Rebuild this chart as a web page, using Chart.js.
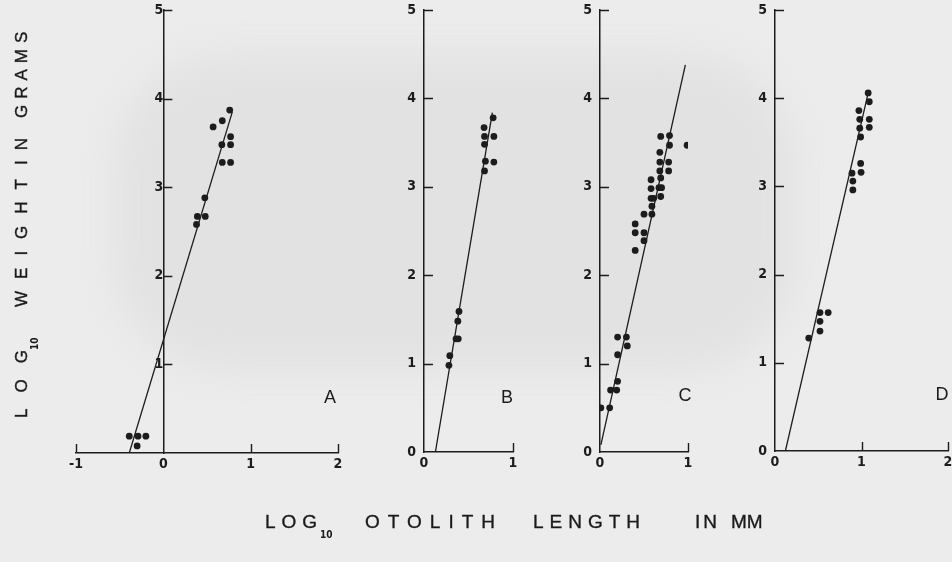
<!DOCTYPE html>
<html><head><meta charset="utf-8">
<script src="https://cdn.jsdelivr.net/npm/chart.js@4"></script>
<style>
html,body{margin:0;padding:0;}
body{width:952px;height:562px;position:relative;overflow:hidden;background:#ececec;}
canvas{position:absolute;left:0;top:0;}
.blob{position:absolute;left:115px;top:55px;width:680px;height:315px;background:#e2e2e2;border-radius:110px;filter:blur(18px);}
.t{position:absolute;font-family:'Liberation Sans',Arial,sans-serif;color:#1a1a1a;white-space:pre;line-height:1;-webkit-text-stroke:0.35px #1a1a1a;}
.sub{position:absolute;font-family:'Liberation Sans Narrow','DejaVu Sans Condensed','Liberation Sans',sans-serif;font-weight:bold;color:#1a1a1a;white-space:pre;line-height:1;font-size:10px;}
#vt{position:absolute;left:0;top:562px;width:562px;height:45px;transform:rotate(-90deg);transform-origin:0 0;}
</style></head><body>
<div class="blob"></div>
<canvas id="cA" width="952" height="562"></canvas>
<canvas id="cB" width="952" height="562"></canvas>
<canvas id="cC" width="952" height="562"></canvas>
<canvas id="cD" width="952" height="562"></canvas>

<div class="t" style="left:265px;top:512px;font-size:19px;letter-spacing:6px;">LOG</div>
<div class="sub" style="left:320px;top:530px;">10</div>
<div class="t" style="left:365px;top:512px;font-size:19px;letter-spacing:8px;">OTOLITH</div>
<div class="t" style="left:533px;top:512px;font-size:19px;letter-spacing:6px;">LENGTH</div>
<div class="t" style="left:695px;top:512px;font-size:19px;letter-spacing:3px;">IN</div>
<div class="t" style="left:731px;top:512px;font-size:19px;letter-spacing:0px;">MM</div>

<div id="vt">
  <div class="t" style="left:144px;top:13px;font-size:17px;letter-spacing:16px;">LOG</div>
  <div class="sub" style="left:212px;top:30px;">10</div>
  <div class="t" style="left:255px;top:13px;font-size:17px;letter-spacing:12px;">WEIGHT</div>
  <div class="t" style="left:397px;top:13px;font-size:17px;letter-spacing:10px;">IN</div>
  <div class="t" style="left:444px;top:13px;font-size:17px;letter-spacing:6px;">GRAMS</div>
</div>

<script>
// ---- data ----
const panelLetters = ['A', 'B', 'C', 'D'];
const yTickValues = [0, 1, 2, 3, 4, 5];
const xRangeA = [-1, 2];
const xRangeB = [0, 1];
const xRangeC = [0, 1];
const xRangeD = [0, 2];

const ptsAx = [0.76, 0.675, 0.57, 0.77, 0.67, 0.77, 0.675, 0.77, 0.475, 0.39, 0.48, 0.38, -0.39, -0.29, -0.20, -0.30];
const ptsAy = [3.87, 3.75, 3.68, 3.57, 3.48, 3.48, 3.28, 3.28, 2.88, 2.67, 2.67, 2.58, 0.19, 0.19, 0.19, 0.08];

const ptsBx = [0.777, 0.675, 0.68, 0.785, 0.68, 0.69, 0.785, 0.68, 0.393, 0.38, 0.36, 0.385, 0.29, 0.28];
const ptsBy = [3.78, 3.67, 3.57, 3.57, 3.48, 3.29, 3.28, 3.18, 1.59, 1.48, 1.28, 1.28, 1.09, 0.98];

const ptsCx = [0.99, 0.69, 0.79, 0.79, 0.68, 0.68, 0.78, 0.68, 0.78, 0.58, 0.69, 0.58, 0.67, 0.70, 0.58, 0.61, 0.69, 0.59, 0.59, 0.50, 0.40, 0.40, 0.50, 0.50, 0.40, 0.20, 0.30, 0.31, 0.20, 0.20, 0.12, 0.19, 0.01, 0.11];
const ptsCy = [3.47, 3.57, 3.58, 3.47, 3.39, 3.28, 3.28, 3.18, 3.18, 3.08, 3.10, 2.98, 2.99, 2.99, 2.87, 2.87, 2.89, 2.78, 2.69, 2.69, 2.58, 2.48, 2.48, 2.39, 2.28, 1.30, 1.30, 1.20, 1.10, 0.80, 0.70, 0.70, 0.50, 0.50];

const ptsDx = [1.077, 1.09, 0.97, 0.98, 1.09, 0.98, 1.09, 0.99, 0.99, 0.995, 0.89, 0.90, 0.90, 0.52, 0.615, 0.52, 0.52, 0.39];
const ptsDy = [4.06, 3.96, 3.86, 3.76, 3.76, 3.66, 3.67, 3.56, 3.26, 3.16, 3.15, 3.06, 2.96, 1.57, 1.57, 1.47, 1.36, 1.28];

const fitAx = [-0.39, 0.79], fitAy = [0, 3.85];
const fitBx = [0.128, 0.768], fitBy = [0, 3.84];
const fitCx = [0.01, 0.97], fitCy = [0.08, 4.38];
const fitDx = [0.12, 1.07], fitDy = [0, 4.03];

// ---- drawing ----
const INK = '#1c1c1c';
const TICK_FONT = {family: "'Liberation Sans Narrow','DejaVu Sans Condensed','Liberation Sans',sans-serif", size: 14, weight: 'bold'};
const zip = (xs, ys) => xs.map((x, i) => ({x, y: ys[i]}));

const inwardTicks = {
  id: 'inwardTicks',
  afterDraw(chart, args, o) {
    const {ctx} = chart, x = chart.scales.x, y = chart.scales.y;
    const ax = x.getPixelForValue(o.yAxisAt), ay = y.getPixelForValue(0);
    ctx.save();
    ctx.strokeStyle = INK; ctx.lineWidth = 1.4;
    ctx.beginPath();
    y.ticks.forEach(t => { if (t.value === 0) return; const py = Math.round(y.getPixelForValue(t.value)) + 0.5; ctx.moveTo(ax, py); ctx.lineTo(ax + 9, py); });
    x.ticks.forEach(t => { if (t.value === o.yAxisAt) return; const px = Math.round(x.getPixelForValue(t.value)) + 0.5; ctx.moveTo(px, ay); ctx.lineTo(px, ay - 9); });
    ctx.stroke();
    ctx.fillStyle = INK;
    ctx.font = "18px 'Liberation Sans', Arial, sans-serif";
    ctx.textAlign = 'center'; ctx.textBaseline = 'alphabetic';
    ctx.fillText(o.letter, o.lx, o.ly);
    ctx.restore();
  }
};

function makePanel(id, xr, px, py, fx, fy, pad, yPos, letter, lx, ly, hideY0) {
  new Chart(document.getElementById(id), {
    type: 'scatter',
    data: {
      datasets: [
        {data: zip(fx, fy), showLine: true, borderColor: INK, borderWidth: 1.3, pointRadius: 0, fill: false},
        {data: zip(px, py), backgroundColor: INK, borderWidth: 0, pointRadius: 3.4}
      ]
    },
    options: {
      responsive: false, animation: false, devicePixelRatio: 1, events: [],
      layout: {padding: pad},
      plugins: {legend: {display: false}, tooltip: {enabled: false}, inwardTicks: {yAxisAt: xr[0] < 0 ? 0 : xr[0], letter, lx, ly}},
      scales: {
        x: {
          type: 'linear', position: 'bottom', min: xr[0], max: xr[1],
          afterBuildTicks: s => { s.ticks = []; for (let v = xr[0]; v <= xr[1]; v++) s.ticks.push({value: v}); },
          afterFit: s => { s.height = 25; s.paddingLeft = 0; s.paddingRight = 0; },
          grid: {display: false, drawTicks: false},
          border: {display: true, color: INK, width: 1.5},
          ticks: {color: INK, font: TICK_FONT, padding: 3, maxRotation: 0, autoSkip: false}
        },
        y: {
          type: 'linear', position: yPos, min: 0, max: 5,
          afterBuildTicks: s => { s.ticks = yTickValues.map(v => ({value: v})); },
          afterFit: s => { s.width = 30; s.paddingTop = 0; s.paddingBottom = 0; },
          grid: {display: false, drawTicks: false},
          border: {display: true, color: INK, width: 1.5},
          ticks: {color: INK, font: TICK_FONT, padding: 8, autoSkip: false,
                  callback: v => (hideY0 && v === 0) ? '' : String(v)}
        }
      }
    },
    plugins: [inwardTicks]
  });
}

makePanel('cA', xRangeA, ptsAx, ptsAy, fitAx, fitAy, {left: 76, right: 614, top: 10, bottom: 84}, {x: 0}, panelLetters[0], 330, 403, true);
makePanel('cB', xRangeB, ptsBx, ptsBy, fitBx, fitBy, {left: 394, right: 439, top: 10, bottom: 85}, 'left', panelLetters[1], 507, 403, false);
makePanel('cC', xRangeC, ptsCx, ptsCy, fitCx, fitCy, {left: 570, right: 264, top: 10, bottom: 85}, 'left', panelLetters[2], 685, 401, false);
makePanel('cD', xRangeD, ptsDx, ptsDy, fitDx, fitDy, {left: 745, right: 2, top: 10, bottom: 86}, 'left', panelLetters[3], 942, 400, false);
</script>
</body></html>
